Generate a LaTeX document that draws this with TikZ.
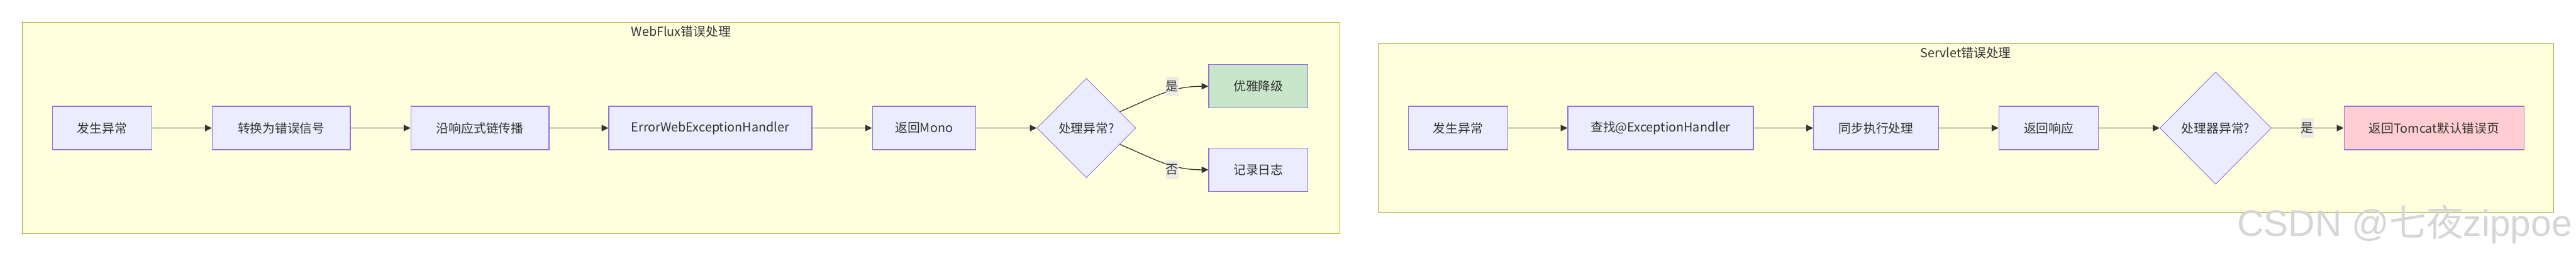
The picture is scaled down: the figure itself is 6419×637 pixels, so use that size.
\documentclass[tikz,border=0pt]{standalone}
\usepackage{fontspec}
\setmainfont{Noto Sans CJK SC}
\newfontfamily\wmfont{Liberation Sans}
\newfontfamily\wmcjk{Noto Sans CJK SC}
\usetikzlibrary{shapes.geometric,arrows.meta}
\definecolor{frameFill}{HTML}{FFFFDE}
\definecolor{frameLine}{HTML}{AAAA33}
\definecolor{nodeFill}{HTML}{ECECFF}
\definecolor{nodeLine}{HTML}{9370DB}
\definecolor{txt}{HTML}{333333}
\definecolor{okFill}{HTML}{C8E6C9}
\definecolor{errFill}{HTML}{FFCDD2}
\definecolor{lblFill}{HTML}{E8E8E8}
\definecolor{wmGray}{HTML}{D6D6D6}
\begin{document}
\begin{tikzpicture}[x=0.5pt,y=-0.5pt,
  font=\fontsize{15.5}{18}\selectfont, text=txt,
  frame/.style={draw=frameLine, fill=frameFill, line width=1pt},
  box/.style={rectangle, draw=nodeLine, fill=nodeFill, line width=1pt, minimum height=54pt, inner sep=0pt, text=txt},
  decision/.style={diamond, draw=nodeLine, fill=nodeFill, line width=0.7pt, inner sep=0pt, text=txt},
  flow/.style={draw=txt, line width=1pt, -{Triangle[length=8.5pt,width=8pt]}},
  elabel/.style={fill=lblFill, fill opacity=0.85, text opacity=1, inner sep=0pt, minimum width=15.5pt, minimum height=24pt, text=txt}
]
\useasboundingbox (0,0) rectangle (6419,637);
\fill[white] (0,0) rectangle (6419,637);

% ---------- WebFlux ----------
\draw[frame] (56,56) rectangle (3339,582);
\node (t1) at (1697,79) {WebFlux错误处理};

\node[box, minimum width=123.5pt] (a1) at (254.5,319) {发生异常};
\node[box, minimum width=172pt] (a2) at (701,319) {转换为错误信号};
\node[box, minimum width=172pt] (a3) at (1196,319) {沿响应式链传播};
\node[box, minimum width=253pt] (a4) at (1770,319) {ErrorWebExceptionHandler};
\node[box, minimum width=128.5pt] (a5) at (2302.5,319) {返回Mono};
\node[decision, minimum width=123pt, minimum height=124pt] (ad) at (2707,319) {处理异常?};
\node[box, fill=okFill, minimum width=123.5pt] (ok) at (3135.5,215) {优雅降级};
\node[box, minimum width=123.5pt] (log) at (3135.5,423) {记录日志};

\draw[flow] (a1.east) -- (a2.west);
\draw[flow] (a2.east) -- (a3.west);
\draw[flow] (a3.east) -- (a4.west);
\draw[flow] (a4.east) -- (a5.west);
\draw[flow] (a5.east) -- (ad.west);
\draw[flow] (ad.26) .. controls (2880,240) and (2920,215) .. (ok.west);
\draw[flow] (ad.-26) .. controls (2880,398) and (2920,423) .. (log.west);
\node[elabel] (ly1) at (2920.5,215) {是};
\node[elabel] (ln1) at (2920.5,423) {否};

% ---------- Servlet ----------
\draw[frame] (3434,109) rectangle (6363,529);
\node (t2) at (4898,132) {Servlet错误处理};

\node[box, minimum width=124pt] (b1) at (3633,319) {发生异常};
\node[box, minimum width=231pt] (b2) at (4138,319) {查找@ExceptionHandler};
\node[box, minimum width=156pt] (b3) at (4675,319) {同步执行处理};
\node[box, minimum width=124pt] (b4) at (5105,319) {返回响应};
\node[decision, minimum width=139pt, minimum height=140pt] (bd) at (5521,319) {处理器异常?};
\node[box, fill=errFill, minimum width=224.5pt] (tc) at (6065.5,319) {返回Tomcat默认错误页};

\draw[flow] (b1.east) -- (b2.west);
\draw[flow] (b2.east) -- (b3.west);
\draw[flow] (b3.east) -- (b4.west);
\draw[flow] (b4.east) -- (bd.west);
\draw[flow] (bd.east) -- (tc.west);
\node[elabel] (ly2) at (5749.5,319) {是};

% ---------- watermark ----------
\node[anchor=base, text=wmGray, inner sep=0pt] (wm) at (5992,589)
  {\fontsize{46}{50}\selectfont\wmfont CSDN @\wmcjk 七夜\wmfont zippoe};
\end{tikzpicture}
\end{document}
